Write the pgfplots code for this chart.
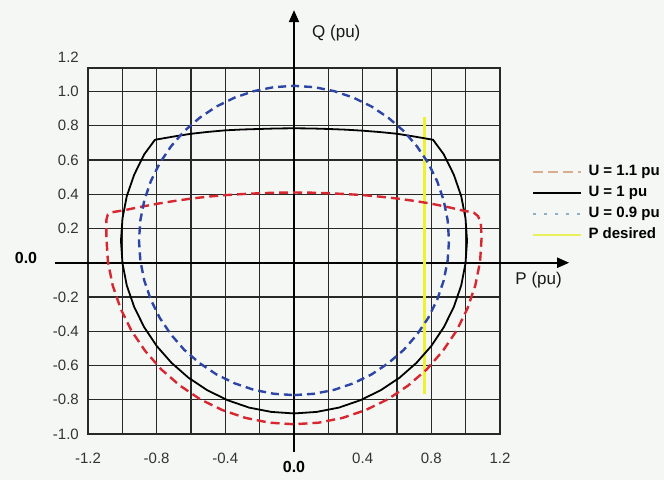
\documentclass[border=0pt]{standalone}
\usepackage{fontspec}
\setmainfont{Liberation Sans}
\usepackage{pgfplots}
\pgfplotsset{compat=1.18}
\usetikzlibrary{arrows.meta}
\definecolor{bg}{RGB}{245,247,245}
\definecolor{curveRed}{RGB}{215,40,50}
\definecolor{curveBlue}{RGB}{45,70,165}
\definecolor{pYellow}{RGB}{240,240,50}
\definecolor{legTan}{RGB}{218,172,145}
\definecolor{legBlue}{RGB}{140,175,205}
\definecolor{legYellow}{RGB}{232,240,90}
\definecolor{gridc}{RGB}{40,40,40}
\begin{document}
\begin{tikzpicture}
\fill[bg] (0pt,0pt) rectangle (664pt,480pt);
\begin{axis}[
  at={(88pt,46pt)}, anchor=south west,
  scale only axis, width=412pt, height=366pt,
  xmin=-1.2, xmax=1.2, ymin=-1, ymax=1.137,
  clip=false,
  xtick={-1.2,-1.0,-0.8,-0.6,-0.4,-0.2,0,0.2,0.4,0.6,0.8,1.0,1.2},
  xticklabels={-1.2,,-0.8,,-0.4,,,,0.4,,0.8,,1.2},
  ytick={-1,-0.8,-0.6,-0.4,-0.2,0,0.2,0.4,0.6,0.8,1},
  yticklabels={-1.0,-0.8,-0.6,-0.4,-0.2,,0.2,0.4,0.6,0.8,1.0},
  grid=major,
  major grid style={gridc, line width=1.4pt},
  axis line style={gridc, line width=1.4pt},
  major tick length=0pt,
  tick label style={font=\fontsize{15}{18}\selectfont, text=black!80, inner sep=0pt, /pgf/number format/assume math mode=true},
  xticklabel style={anchor=base, yshift=-29.5pt},
  yticklabel style={anchor=east, xshift=-9pt},
  every axis plot/.append style={line join=round},
  legend image code/.code={\draw[#1] (0pt,0pt) -- (48pt,0pt);},
  legend cell align=left,
  legend style={draw=none, fill=none, at={(1.0777,0.737)}, anchor=north west,
    inner sep=0pt, outer sep=0pt, row sep=6pt, column sep=6pt,
    font=\bfseries\fontsize{15}{18}\selectfont,
    nodes={inner sep=0pt, text height=11.5pt, text depth=3.5pt}},
]
% axes with arrows
\draw[black, line width=2pt, -{Triangle[length=12pt,width=10pt]}] (axis cs:-1.394,0) -- (axis cs:1.603,0);
\draw[black, line width=2pt, -{Triangle[length=12pt,width=10pt]}] (axis cs:0,-1.108) -- (axis cs:0,1.475);
% P desired
\addplot[pYellow, line width=3pt, forget plot] coordinates {(0.76,-0.767) (0.76,0.85)};
% U = 1 pu
\addplot[black, line width=1.8pt, forget plot] coordinates {
(-0.81,0.718) (-0.70,0.737) (-0.60,0.753) (-0.50,0.764) (-0.40,0.773) (-0.30,0.778) (-0.20,0.781) (-0.10,0.784) (0,0.785) (0.10,0.784) (0.20,0.781) (0.30,0.777) (0.40,0.771) (0.50,0.763) (0.60,0.753) (0.70,0.737) (0.81,0.718)
(0.873,0.632) (0.931,0.514) (0.974,0.389) (0.999,0.260) (1.008,0.128) (0.999,-0.004) (0.974,-0.133) (0.931,-0.258) (0.873,-0.376) (0.800,-0.486) (0.713,-0.585) (0.614,-0.672) (0.504,-0.745) (0.386,-0.803) (0.261,-0.846) (0.132,-0.871) (0,-0.880)
(-0.132,-0.871) (-0.261,-0.846) (-0.386,-0.803) (-0.504,-0.745) (-0.614,-0.672) (-0.713,-0.585) (-0.800,-0.486) (-0.873,-0.376) (-0.931,-0.258) (-0.974,-0.133) (-0.999,-0.004) (-1.008,0.128) (-0.999,0.260) (-0.974,0.389) (-0.931,0.514) (-0.873,0.632) (-0.81,0.718)
};
% U = 1.1 pu
\addplot[curveRed, line width=2.4pt, dash pattern=on 9pt off 5pt, forget plot] coordinates {
(-1.093,0.150) (-1.093,0.250) (-1.085,0.280) (-1.065,0.294) (-0.987,0.307) (-0.90,0.325) (-0.793,0.345) (-0.70,0.360) (-0.595,0.375) (-0.50,0.386) (-0.395,0.395) (-0.30,0.401) (-0.198,0.406) (-0.10,0.409) (0,0.410) (0.10,0.409) (0.20,0.406) (0.30,0.401) (0.40,0.395) (0.50,0.386) (0.60,0.375) (0.70,0.361) (0.794,0.346) (0.91,0.322) (0.99,0.303) (1.047,0.293) (1.072,0.272) (1.088,0.235) (1.093,0.150)
(1.084,0.007) (1.056,-0.133) (1.010,-0.268) (0.947,-0.397) (0.867,-0.515) (0.773,-0.623) (0.665,-0.717) (0.547,-0.797) (0.418,-0.860) (0.283,-0.906) (0.143,-0.934) (0,-0.943)
(-0.143,-0.934) (-0.283,-0.906) (-0.418,-0.860) (-0.547,-0.797) (-0.665,-0.717) (-0.773,-0.623) (-0.867,-0.515) (-0.947,-0.397) (-1.010,-0.268) (-1.056,-0.133) (-1.084,0.007) (-1.093,0.150)
};
% U = 0.9 pu
\addplot[curveBlue, line width=2.4pt, dash pattern=on 8pt off 5pt, forget plot] coordinates {
(0,-0.773) (0.118,-0.765) (0.234,-0.742) (0.346,-0.704) (0.452,-0.652) (0.550,-0.586) (0.639,-0.509) (0.716,-0.420) (0.782,-0.322) (0.834,-0.216) (0.872,-0.104) (0.895,0.012) (0.903,0.130) (0.895,0.248) (0.872,0.364) (0.834,0.476) (0.782,0.582) (0.716,0.680) (0.639,0.769) (0.550,0.846) (0.452,0.912) (0.346,0.964) (0.234,1.002) (0.118,1.025) (0,1.033) (-0.118,1.025) (-0.234,1.002) (-0.346,0.964) (-0.452,0.912) (-0.550,0.846) (-0.639,0.769) (-0.716,0.680) (-0.782,0.582) (-0.834,0.476) (-0.872,0.364) (-0.895,0.248) (-0.903,0.130) (-0.895,0.012) (-0.872,-0.104) (-0.834,-0.216) (-0.782,-0.322) (-0.716,-0.420) (-0.639,-0.509) (-0.550,-0.586) (-0.452,-0.652) (-0.346,-0.704) (-0.234,-0.742) (-0.118,-0.765) (0,-0.773)
};
% legend
\addlegendimage{legTan, line width=2.5pt, dash pattern=on 10pt off 5pt}
\addlegendentry{U = 1.1 pu}
\addlegendimage{black, line width=1.8pt}
\addlegendentry{U = 1 pu}
\addlegendimage{legBlue, line width=2.2pt, dash pattern=on 3pt off 8pt}
\addlegendentry{U = 0.9 pu}
\addlegendimage{legYellow, line width=2.5pt}
\addlegendentry{P desired}
% labels
\node[anchor=east, inner sep=0pt, xshift=-9pt, font=\fontsize{15}{18}\selectfont, text=black!80] at (axis cs:-1.2,1.2) {1.2};
\node[anchor=base west, inner sep=0pt, font=\bfseries\fontsize{16}{18}\selectfont] at (axis cs:-1.627,-0.006) {0.0};
\node[anchor=base, inner sep=0pt, font=\bfseries\fontsize{16}{18}\selectfont] at (axis cs:0,-1.226) {0.0};
\node[anchor=base west, inner sep=0pt, font=\fontsize{17}{20}\selectfont, text=black!90] at (axis cs:0.105,1.315) {Q (pu)};
\node[anchor=base west, inner sep=0pt, font=\fontsize{17}{20}\selectfont, text=black!90] at (axis cs:1.289,-0.128) {P (pu)};
\end{axis}
\pgfresetboundingbox
\path[use as bounding box] (0pt,0pt) rectangle (664pt,480pt);
\end{tikzpicture}
\end{document}
